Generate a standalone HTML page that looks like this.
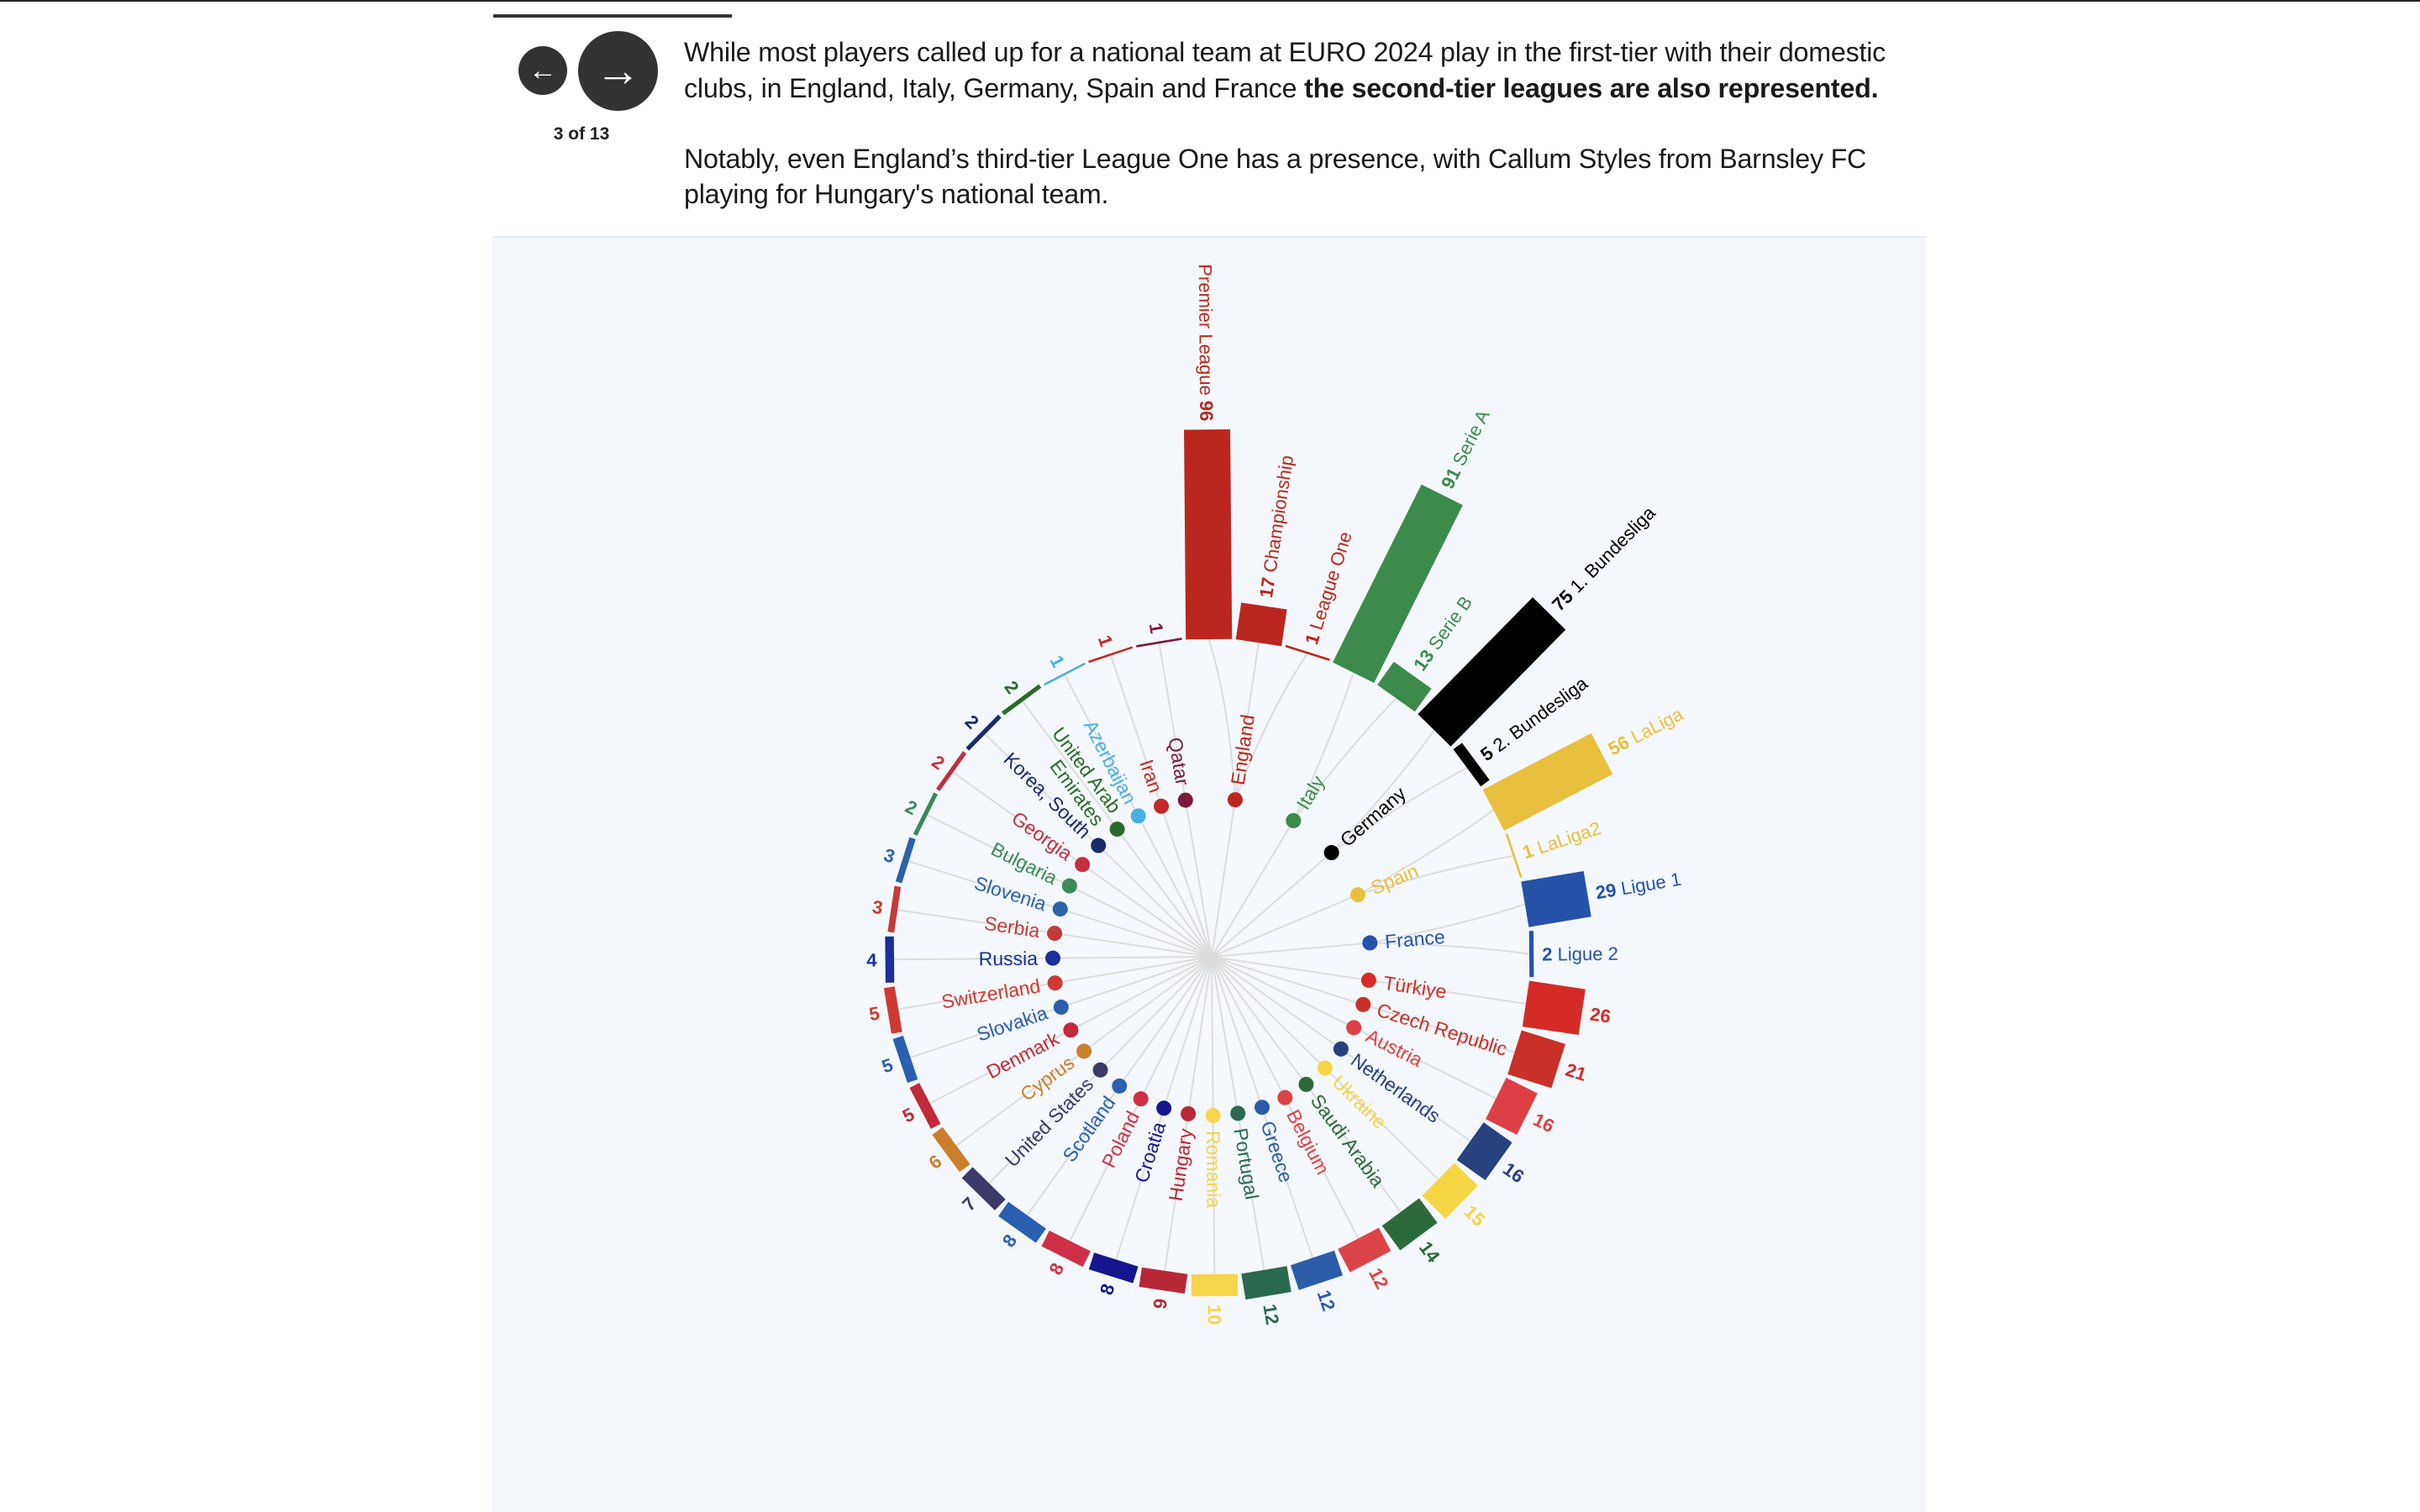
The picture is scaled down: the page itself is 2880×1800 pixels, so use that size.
<!DOCTYPE html>
<html><head><meta charset="utf-8">
<style>
html,body{margin:0;padding:0;background:#fff;width:2880px;height:1800px;overflow:hidden;position:relative;font-family:"Liberation Sans",sans-serif;}
.abs{position:absolute;}
.p{position:absolute;left:814px;font-size:32.2px;color:#1a1a1a;white-space:nowrap;line-height:42px;letter-spacing:-0.2px}
</style></head><body>
<div class="abs" style="left:0;top:0;width:2880px;height:2px;background:#222"></div>
<div class="abs" style="left:587px;top:17px;width:284px;height:4px;background:#333"></div>
<div class="abs" style="left:617px;top:55px;width:58px;height:58px;border-radius:50%;background:#333;color:#fff;font-size:34px;line-height:58px;text-align:center;font-weight:bold">&#8592;</div>
<div class="abs" style="left:688px;top:37px;width:95px;height:95px;border-radius:50%;background:#333;color:#fff;font-size:54px;line-height:95px;text-align:center;font-weight:bold">&#8594;</div>
<div class="abs" style="left:640px;top:148px;width:104px;text-align:center;font-size:21px;font-weight:bold;color:#222">3 of 13</div>
<div class="p" style="top:41px">While most players called up for a national team at EURO 2024 play in the first-tier with their domestic</div>
<div class="p" style="top:84px">clubs, in England, Italy, Germany, Spain and France <b>the second-tier leagues are also represented.</b></div>
<div class="p" style="top:168px">Notably, even England’s third-tier League One has a presence, with Callum Styles from Barnsley FC</div>
<div class="p" style="top:210px">playing for Hungary's national team.</div>
<div class="abs" style="left:586px;top:281px;width:1706px;height:1519px;background:#f4f7fb;border-top:2px solid #e8ecf0"></div>
<svg id="chart" class="abs" style="left:0;top:0" width="2880" height="1800" xmlns="http://www.w3.org/2000/svg"></svg>
<script>
// slot data (clockwise from top)
const slotLabels=["Premier League","Championship","League One","Serie A","Serie B","1. Bundesliga","2. Bundesliga","LaLiga","LaLiga2","Ligue 1","Ligue 2","","","","","","","","","","","","","","","","","","","","","","","","","","","","",""];
const slotValues=[96,17,1,91,13,75,5,56,1,29,2,26,21,16,16,15,14,12,12,12,10,9,8,8,8,7,6,5,5,5,4,3,3,2,2,2,2,1,1,1];
const slotCountry=["England","England","England","Italy","Italy","Germany","Germany","Spain","Spain","France","France","Türkiye","Czech Republic","Austria","Netherlands","Ukraine","Saudi Arabia","Belgium","Greece","Portugal","Romania","Hungary","Croatia","Poland","Scotland","United States","Cyprus","Denmark","Slovakia","Switzerland","Russia","Serbia","Slovenia","Bulgaria","Georgia","Korea, South","United Arab Emirates","Azerbaijan","Iran","Qatar"];
const countryNames=["England","Italy","Germany","Spain","France","Türkiye","Czech Republic","Austria","Netherlands","Ukraine","Saudi Arabia","Belgium","Greece","Portugal","Romania","Hungary","Croatia","Poland","Scotland","United States","Cyprus","Denmark","Slovakia","Switzerland","Russia","Serbia","Slovenia","Bulgaria","Georgia","Korea, South","United Arab Emirates","Azerbaijan","Iran","Qatar"];
const countryColors=["#bb271e","#3d8a4d","#000000","#e9c03d","#2453a8","#d52b26","#c93028","#dd4045","#28427f","#f6d544","#2c6a3b","#dd4448","#2b5ca8","#2a6a50","#f6d54a","#b92836","#16168c","#cf3048","#2b5fb0","#3b3a6a","#cb7f2c","#c02a3a","#2b5fb0","#cf3a30","#1a2f9a","#c43a3a","#2a64a8","#3a8a5a","#c03040","#1a2a6a","#2a6a2a","#4ab0e0","#c42828","#7a1a3a"];

const CX=1442, CY=1139, R=378, RDOT=189, K=2.6, BW=55, STEP=9, START=-0.5;
const svg=document.getElementById('chart');
const NS="http://www.w3.org/2000/svg";
function mk(t,a){const e=document.createElementNS(NS,t);for(const k in a)e.setAttribute(k,a[k]);return e;}
function ang(i){return START+STEP*i;}
function pt(r,a){const t=a*Math.PI/180;return [CX+r*Math.sin(t),CY-r*Math.cos(t)];}
function colorOf(c){return countryColors[countryNames.indexOf(c)];}
function countryAngle(c){let s=0,n=0;slotCountry.forEach((x,i)=>{if(x===c){s+=ang(i);n++;}});return s/n;}
function rotText(r,a,str,color,size,boldPart,name){
  const p=pt(r,a);let n=((a%360)+360)%360;const right=n>0&&n<180;
  const t=mk('text',{x:0,y:0,fill:color,'font-size':size,'font-family':'"Liberation Sans",sans-serif','dominant-baseline':'central','text-anchor':right?'start':'end',transform:`translate(${p[0].toFixed(1)},${p[1].toFixed(1)}) rotate(${(right?a-90:a+90).toFixed(2)})`});
  
  
  if(boldPart!==null){
    const b=mk('tspan',{'font-weight':'bold'});b.textContent=boldPart;
    const s=mk('tspan',{});s.textContent=str?" "+str:"";
    if(right){t.appendChild(b);t.appendChild(s);}else{s.textContent=str?str+" ":"";t.appendChild(s);t.appendChild(b);}
  } else if(str.length>16){
    const w=str.split(' ');const l1=w.slice(0,w.length-1).join(' '),l2=w[w.length-1];
    const s1=mk('tspan',{x:0,dy:'-0.55em'});s1.textContent=l1;
    const s2=mk('tspan',{x:0,dy:'1.1em'});s2.textContent=l2;
    t.appendChild(s1);t.appendChild(s2);
  } else t.textContent=str;
  svg.appendChild(t);
}
const lines=mk('g',{stroke:'#dcdcdc','stroke-width':2,fill:'none'});


svg.appendChild(lines);
countryNames.forEach(c=>{
  const a=countryAngle(c);const d=pt(RDOT,a);
  const l=mk('line',{x1:CX,y1:CY,x2:d[0],y2:d[1]});
  
  
  lines.appendChild(l);
  slotCountry.forEach((x,i)=>{if(x!==c)return;
    const e=pt(R,ang(i));const q=pt(300,(a+ang(i))/2);
    const p=mk('path',{d:`M${d[0]},${d[1]} Q${q[0]},${q[1]} ${e[0]},${e[1]}`});
    
    
    lines.appendChild(p);
  });
});
slotValues.forEach((v,i)=>{
  const a=ang(i);const len=v*K;const col=colorOf(slotCountry[i]);
  const r=mk('rect',{x:-BW/2,y:-(R+len),width:BW,height:len,fill:col,transform:`translate(${CX},${CY}) rotate(${a})`});
  
  
  svg.appendChild(r);
  rotText(R+len+10,a,slotLabels[i],col,22,String(v),'bar-label');
});
countryNames.forEach((c,j)=>{
  const a=countryAngle(c);const d=pt(RDOT,a);
  const ci=mk('circle',{cx:d[0],cy:d[1],r:9,fill:countryColors[j]});
  
  
  svg.appendChild(ci);
  rotText(RDOT+18,a,c,countryColors[j],23,null,'country-label');
});
</script>
</body></html>
